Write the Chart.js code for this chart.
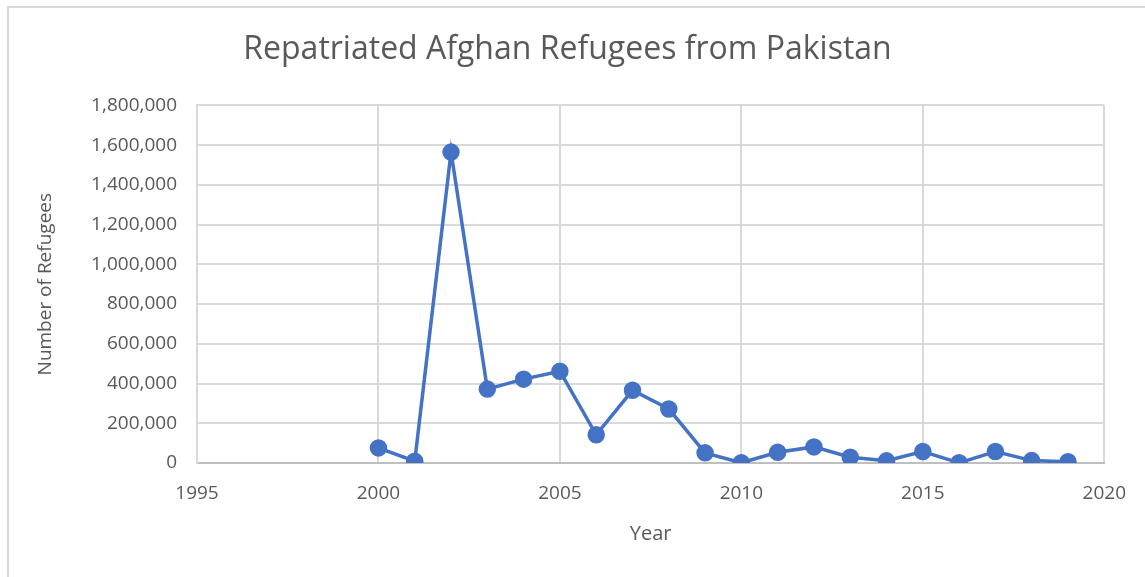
<!DOCTYPE html>
<html>
<head>
<meta charset="utf-8">
<title>Repatriated Afghan Refugees from Pakistan</title>
<script src="https://cdn.jsdelivr.net/npm/chart.js@4"></script>
<style>
    html, body { margin: 0; padding: 0; background: #fff; }
    #wrap { position: relative; width: 1145px; height: 577px; overflow: hidden; }
    #frame { position: absolute; left: 7px; top: 6px; width: 1200px; height: 600px;
             border-left: 2px solid #d9d9d9; border-top: 2px solid #d9d9d9; }
    #chart { position: absolute; left: 0; top: 0; }
</style>
</head>
<body>
<div id="wrap">
    <div id="frame"></div>
    <canvas id="chart" width="1145" height="577"></canvas>
</div>
<script>
// Chart data
const years = [2000, 2001, 2002, 2003, 2004, 2005, 2006, 2007, 2008, 2009,
    2010, 2011, 2012, 2013, 2014, 2015, 2016, 2017, 2018, 2019];
const refugees = [76000, 9000, 1565000, 372000, 422000, 462000, 142000, 366000, 272000, 51000,
    1000, 54000, 81000, 29000, 11000, 58000, 1000, 58000, 12000, 6000];
const xTicks = [1995, 2000, 2005, 2010, 2015, 2020];

const textColor = '#595959';
const gridColor = '#d9d9d9';
const lineColor = '#4472C4';
const fontFamily = "'Open Sans', 'Noto Sans', sans-serif";

// layout numbers (plot area: x 197..1105, y 104..463)
const padLeft = 30;
const padBottom = 27;

const points = years.map((y, i) => ({ x: y, y: refugees[i] }));

const ctx = document.getElementById('chart').getContext('2d');
const chart = new Chart(ctx, {
    type: 'line',
    data: {
        datasets: [{
            label: 'Refugees',
            data: points,
            borderColor: lineColor,
            backgroundColor: lineColor,
            borderWidth: 3.5,
            pointRadius: 7,
            pointHoverRadius: 7,
            pointBackgroundColor: lineColor,
            pointBorderColor: lineColor,
            tension: 0
        }]
    },
    options: {
        responsive: false,
        animation: false,
        layout: {
            padding: { left: padLeft, right: 40, top: 10, bottom: padBottom }
        },
        plugins: {
            legend: { display: false },
            tooltip: { enabled: false },
            title: {
                display: true,
                text: 'Repatriated Afghan Refugees from Pakistan',
                color: textColor,
                font: { family: fontFamily, size: 32, weight: 'normal' },
                padding: { top: 21, bottom: 36 }
            }
        },
        scales: {
            x: {
                type: 'linear',
                min: 1995,
                max: 2020,
                afterBuildTicks: (axis) => {
                    axis.ticks = xTicks.map(v => ({ value: v }));
                },
                afterFit: (axis) => {
                    axis.height = 577 - 463 - padBottom;
                },
                ticks: {
                    color: textColor,
                    font: { family: fontFamily, size: 19 },
                    padding: 19,
                    callback: (v) => String(v)
                },
                grid: {
                    color: gridColor,
                    lineWidth: 2,
                    drawTicks: false
                },
                border: { color: '#bfbfbf', width: 2 },
                title: {
                    display: true,
                    text: 'Year',
                    color: textColor,
                    font: { family: fontFamily, size: 20 },
                    padding: { top: 10 }
                }
            },
            y: {
                min: 0,
                max: 1800000,
                afterFit: (axis) => {
                    axis.width = 197 - padLeft;
                },
                ticks: {
                    stepSize: 200000,
                    color: textColor,
                    font: { family: fontFamily, size: 19 },
                    padding: 20,
                    callback: (v) => v.toLocaleString('en-US')
                },
                grid: {
                    color: gridColor,
                    lineWidth: 2,
                    drawTicks: false
                },
                border: { color: gridColor, width: 2 },
                title: {
                    display: true,
                    text: 'Number of Refugees',
                    color: textColor,
                    font: { family: fontFamily, size: 19 },
                    padding: { bottom: 4 }
                }
            }
        }
    }
});
</script>
</body>
</html>
